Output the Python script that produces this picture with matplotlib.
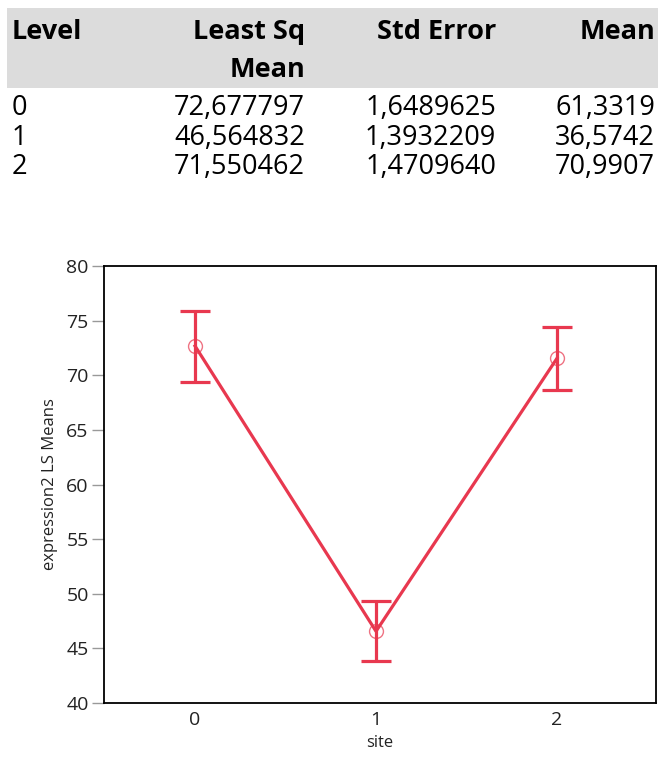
import matplotlib

matplotlib.use("Agg")
import matplotlib.pyplot as plt
import numpy as np

# table data (as shown, comma decimal)
levels = ["0", "1", "2"]
ls_mean_txt = ["72,677797", "46,564832", "71,550462"]
std_err_txt = ["1,6489625", "1,3932209", "1,4709640"]
mean_txt = ["61,3319", "36,5742", "70,9907"]

# plot data
sites = [0, 1, 2]
ls_means = [72.677797, 46.564832, 71.550462]
ci_low = [69.4, 43.8, 68.65]
ci_high = [75.9, 49.3, 74.45]

RED = "#e8384f"
FONT = ["Open Sans", "DejaVu Sans"]
plt.rcParams["font.family"] = FONT

W, H = 672, 770
fig = plt.figure(figsize=(W / 100, H / 100), dpi=100)


def fx(px):
    return px / W


def fy(py):
    return 1 - py / H


# --- table ---
fig.patches.append(
    matplotlib.patches.Rectangle(
        (fx(7), fy(88)), fx(651), 80 / H, transform=fig.transFigure,
        facecolor="#dcdcdc", edgecolor="none", zorder=0,
    )
)
hdr_kw = dict(fontsize=19.5, fontweight="bold", va="center", color="black")
fig.text(fx(12), fy(32), "Level", ha="left", **hdr_kw)
fig.text(fx(305), fy(32), "Least Sq", ha="right", **hdr_kw)
fig.text(fx(305), fy(70), "Mean", ha="right", **hdr_kw)
fig.text(fx(496), fy(32), "Std Error", ha="right", **hdr_kw)
fig.text(fx(655), fy(32), "Mean", ha="right", **hdr_kw)

row_y = [108, 138, 167]
cell_kw = dict(fontsize=19.5, va="center", color="black")
for i, yy in enumerate(row_y):
    fig.text(fx(12), fy(yy), levels[i], ha="left", **cell_kw)
    fig.text(fx(305), fy(yy), ls_mean_txt[i], ha="right", **cell_kw)
    fig.text(fx(496), fy(yy), std_err_txt[i], ha="right", **cell_kw)
    fig.text(fx(655), fy(yy), mean_txt[i], ha="right", **cell_kw)

# --- plot ---
ax = fig.add_axes([fx(104), fy(703), fx(656 - 104), (703 - 266) / H])
x = np.array(sites)
y = np.array(ls_means)
ax.plot(x, y, color=RED, lw=2.3, zorder=3)
yerr = np.vstack([y - np.array(ci_low), np.array(ci_high) - y])
ax.errorbar(x, y, yerr=yerr, fmt="none", ecolor=RED, elinewidth=2.3,
            capsize=11, capthick=2.3, zorder=4)
ax.plot(x, y, "o", ms=10, mfc="none", mec=RED, mew=1.0, alpha=0.7, zorder=5)

ax.set_xlim(-0.503, 2.547)
ax.set_ylim(40, 80)
ax.set_yticks(np.arange(40, 81, 5))
ax.set_xticks(sites)
ax.set_xticklabels(levels)
for s in ax.spines.values():
    s.set_linewidth(1.3)
    s.set_color("black")
ax.tick_params(axis="y", length=9, width=1, color="#999999", labelsize=14,
               labelcolor="#222222", pad=2)
ax.tick_params(axis="x", length=0, labelsize=14, labelcolor="#222222", pad=6)
ax.set_ylabel("expression2 LS Means", fontsize=12, color="#222222", labelpad=6)
ax.set_xlabel("site", fontsize=12, color="#222222", labelpad=4)

fig.savefig("out.png", dpi=100)
